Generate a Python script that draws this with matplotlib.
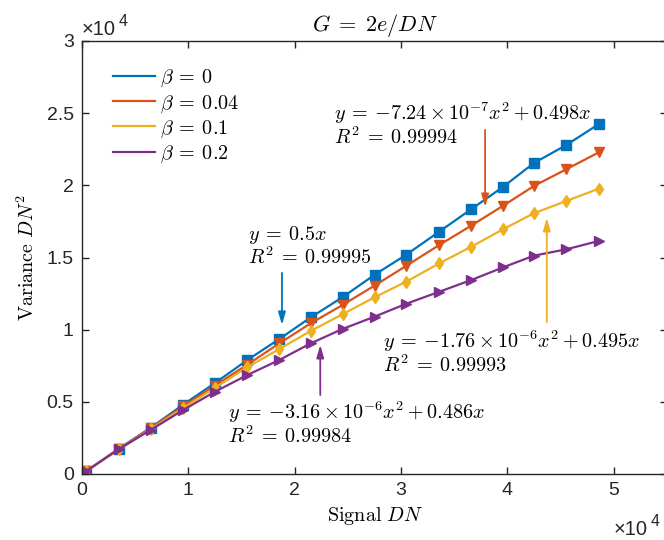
import numpy as np
import matplotlib
matplotlib.use("Agg")
import matplotlib.pyplot as plt
from matplotlib.lines import Line2D
from matplotlib.ticker import FuncFormatter

plt.rcParams['mathtext.fontset'] = 'cm'
plt.rcParams['font.family'] = ['Liberation Sans', 'DejaVu Sans']

# signal (DN) and variance (DN^2)
signal = np.array([0.04, 0.345, 0.645, 0.95, 1.25, 1.555, 1.855, 2.15, 2.45,
                   2.75, 3.05, 3.36, 3.66, 3.96, 4.25, 4.555, 4.86]) * 1e4
var_b0 = np.array([0.02, 0.175, 0.32, 0.48, 0.63, 0.79, 0.935, 1.085, 1.225,
                   1.38, 1.52, 1.68, 1.835, 1.99, 2.155, 2.28, 2.425]) * 1e4
var_b004 = np.array([0.02, 0.172, 0.317, 0.468, 0.613, 0.758, 0.905, 1.044, 1.171,
                     1.305, 1.443, 1.587, 1.721, 1.859, 1.996, 2.112, 2.229]) * 1e4
var_b01 = np.array([0.02, 0.17, 0.31, 0.457, 0.597, 0.74, 0.866, 0.991, 1.107,
                    1.224, 1.333, 1.46, 1.575, 1.696, 1.807, 1.892, 1.977]) * 1e4
var_b02 = np.array([0.02, 0.172, 0.305, 0.443, 0.57, 0.686, 0.79, 0.905, 1.005,
                    1.09, 1.18, 1.263, 1.344, 1.432, 1.513, 1.557, 1.615]) * 1e4

labels = [r'$\beta \:=\: 0$', r'$\beta \:=\: 0.04$', r'$\beta \:=\: 0.1$', r'$\beta \:=\: 0.2$']
colors = ['#0072BD', '#D95319', '#EDB120', '#7E2F8E']
markers = ['s', 'v', 'd', '>']

fit_text = [r'$y \:=\: 0.5x$' + '\n' + r'$R^2 \:=\: 0.99995$',
            r'$y \:=\: -7.24 \times 10^{-7}x^2 + 0.498x$' + '\n' + r'$R^2 \:=\: 0.99994$',
            r'$y \:=\: -1.76 \times 10^{-6}x^2 + 0.495x$' + '\n' + r'$R^2 \:=\: 0.99993$',
            r'$y \:=\: -3.16 \times 10^{-6}x^2 + 0.486x$' + '\n' + r'$R^2 \:=\: 0.99984$']
# text anchor (left, centre) and arrow tail / tip, in data units
text_pos = [(1.56e4, 1.58e4), (2.37e4, 2.425e4), (2.83e4, 0.842e4), (1.373e4, 0.35e4)]
arrow_tail = [(1.88e4, 1.393e4), (3.79e4, 2.384e4), (4.37e4, 1.053e4), (2.24e4, 0.547e4)]
arrow_tip = [(1.88e4, 1.033e4), (3.79e4, 1.85e4), (4.37e4, 1.774e4), (2.24e4, 0.894e4)]

fig = plt.figure(figsize=(6.64, 5.4), dpi=100)
ax = fig.add_axes([82 / 664, 1 - 474 / 540, 585 / 664, 433 / 540])

series = [var_b0, var_b004, var_b01, var_b02]
for v, c, m in zip(series, colors, markers):
    ax.plot(signal, v, color=c, marker=m, markersize=6.5, lw=1.6)

for t, tp, tail, tip, c in zip(fit_text, text_pos, arrow_tail, arrow_tip, colors):
    ax.text(tp[0], tp[1], t, fontsize=14.5, ha='left', va='center', linespacing=1.05)
    ax.annotate('', xy=tip, xytext=tail,
                arrowprops=dict(arrowstyle='-|>,head_length=0.75,head_width=0.22',
                                color=c, lw=1.3, shrinkA=0, shrinkB=0))

ax.set_xlim(0, 5.5e4)
ax.set_ylim(0, 3e4)
ax.set_xticks(np.arange(0, 6e4, 1e4))
ax.set_yticks(np.arange(0, 3.01e4, 0.5e4))
fmt = FuncFormatter(lambda v, p: ('%g' % (v / 1e4)))
ax.xaxis.set_major_formatter(fmt)
ax.yaxis.set_major_formatter(fmt)
ax.tick_params(direction='in', length=5, width=1, top=True, right=True,
               labelsize=14, colors='#262626', pad=6)
for s in ax.spines.values():
    s.set_color('#262626')
    s.set_linewidth(1)

ax.set_title(r'$G \;=\; 2e/DN$', fontsize=16, pad=7)
ax.set_xlabel(r'$\mathrm{Signal}\ DN$', fontsize=14.5, labelpad=4)
ax.set_ylabel(r'$\mathrm{Variance}\ DN^2$', fontsize=14.5, labelpad=6)

# exponent labels (x10^4), plain text in the tick font
for x0, yb in [(82, 35), (614, 535)]:
    fig.text(x0 / 664, 1 - yb / 540, '\u00d710', fontsize=14.5, color='#262626',
             ha='left', va='baseline')
    fig.text((x0 + 37) / 664, 1 - (yb - 9) / 540, '4', fontsize=11.5, color='#262626',
             ha='left', va='baseline')

handles = [Line2D([], [], color=c, lw=1.6) for c in colors]
ax.legend(handles, labels, loc='upper left', bbox_to_anchor=(0.022, 0.98),
          frameon=False, fontsize=14.5, handlelength=2.1, handletextpad=0.25,
          labelspacing=0.18)

fig.savefig('out.png', dpi=100)
